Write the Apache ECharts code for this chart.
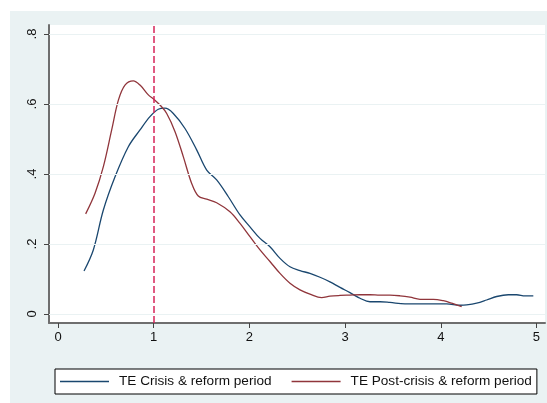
<!DOCTYPE html>
<html>
<head>
<meta charset="utf-8">
<script src="https://cdn.jsdelivr.net/npm/echarts@6/dist/echarts.min.js"></script>
<style>
html,body{margin:0;padding:0;background:#fff;}
#chart{width:547px;height:403px;}
</style>
</head>
<body>
<div id="chart"></div>
<script>
// ---- data ----
const xTicks = [0, 1, 2, 3, 4, 5];
const yTicks = [0, 0.2, 0.4, 0.6, 0.8];
const refLineX = 1;
const seriesNames = ['TE Crisis & reform period', 'TE Post-crisis & reform period'];

const crisisX = [0.272, 0.369, 0.474, 0.596, 0.735, 0.857, 0.961, 1.048, 1.118, 1.205, 1.327, 1.449, 1.554, 1.658, 1.780, 1.902, 2.006, 2.111, 2.215, 2.320, 2.424, 2.529, 2.633, 2.738, 2.842, 2.947, 3.051, 3.156, 3.260, 3.365, 3.469, 3.626, 3.783, 3.922, 4.061, 4.200, 4.270, 4.375, 4.479, 4.584, 4.706, 4.793, 4.880, 4.967];
const crisisY = [0.123, 0.183, 0.297, 0.392, 0.478, 0.526, 0.564, 0.585, 0.588, 0.573, 0.530, 0.469, 0.411, 0.383, 0.335, 0.283, 0.249, 0.216, 0.192, 0.159, 0.135, 0.124, 0.116, 0.105, 0.092, 0.076, 0.061, 0.045, 0.035, 0.035, 0.033, 0.029, 0.029, 0.029, 0.029, 0.025, 0.026, 0.031, 0.040, 0.050, 0.055, 0.055, 0.052, 0.052];

const postX = [0.289, 0.387, 0.474, 0.561, 0.631, 0.700, 0.787, 0.857, 0.944, 1.003, 1.066, 1.136, 1.223, 1.310, 1.397, 1.466, 1.554, 1.658, 1.797, 1.902, 2.006, 2.111, 2.215, 2.320, 2.424, 2.529, 2.633, 2.755, 2.842, 2.947, 3.051, 3.156, 3.260, 3.365, 3.469, 3.574, 3.678, 3.783, 3.922, 4.026, 4.114, 4.218];
const postY = [0.286, 0.345, 0.421, 0.526, 0.611, 0.654, 0.666, 0.654, 0.626, 0.613, 0.597, 0.573, 0.521, 0.449, 0.373, 0.337, 0.328, 0.318, 0.292, 0.259, 0.221, 0.183, 0.150, 0.116, 0.088, 0.069, 0.057, 0.047, 0.051, 0.053, 0.054, 0.055, 0.055, 0.054, 0.054, 0.052, 0.048, 0.042, 0.042, 0.038, 0.031, 0.021];

// ---- chart ----
const FONT = '"Liberation Sans", Arial, sans-serif';
const pairs = (xs, ys) => xs.map((x, i) => [x, ys[i]]);

const chart = echarts.init(document.getElementById('chart'), null, {renderer: 'canvas'});
chart.setOption({
  backgroundColor: '#ffffff',
  animation: false,
  graphic: [
    {type: 'rect', z: -10, silent: true, shape: {x: 10, y: 11, width: 537, height: 392}, style: {fill: '#eaf2f3'}},
    {type: 'rect', z: -9, silent: true, shape: {x: 49, y: 25, width: 496, height: 298}, style: {fill: '#ffffff'}}
  ],
  grid: {left: 49, right: 2, top: 25, bottom: 80, containLabel: false},
  xAxis: {
    type: 'value', min: -0.094, max: 5.089,
    axisLine: {show: true, onZero: false, lineStyle: {color: '#6e6e6e', width: 2}},
    axisTick: {show: true, length: 5, customValues: xTicks, lineStyle: {color: '#444', width: 1}},
    axisLabel: {customValues: xTicks, margin: 8, color: '#111', fontSize: 13, fontFamily: FONT, formatter: v => String(v)},
    splitLine: {show: false}
  },
  yAxis: {
    type: 'value', min: -0.0257, max: 0.8257,
    axisLine: {show: true, onZero: false, lineStyle: {color: '#6e6e6e', width: 2}},
    axisTick: {show: true, length: 5, customValues: yTicks, lineStyle: {color: '#444', width: 1}},
    axisLabel: {customValues: yTicks, rotate: 90, margin: 10, color: '#111', fontSize: 13, fontFamily: FONT,
      formatter: v => (Math.abs(v) < 1e-9 ? '0' : String(Math.round(v * 10) / 10).replace(/^0/, ''))},
    splitLine: {show: false}
  },
  legend: {
    left: 55, top: 369, orient: 'horizontal',
    padding: [5, 5, 5, 5],
    backgroundColor: '#ffffff', borderColor: '#000', borderWidth: 1, borderRadius: 0,
    icon: 'rect', itemWidth: 49, itemHeight: 1.6, itemGap: 20,
    textStyle: {color: '#111', fontSize: 13.6, lineHeight: 15, fontFamily: FONT, padding: [0, 0, 0, 5]},
    data: seriesNames
  },
  series: [
    {
      name: '_grid', type: 'line', data: [], z: 1, silent: true,
      markLine: {
        silent: true, symbol: 'none', label: {show: false},
        lineStyle: {color: '#eaf2f3', width: 1.2, type: 'solid'},
        data: yTicks.map(v => ({yAxis: v}))
      }
    },
    {
      name: seriesNames[0], type: 'line', data: pairs(crisisX, crisisY), smooth: 0.35,
      symbol: 'none', z: 3, lineStyle: {color: '#1a476f', width: 1.3}, itemStyle: {color: '#1a476f'}
    },
    {
      name: seriesNames[1], type: 'line', data: pairs(postX, postY), smooth: 0.35,
      symbol: 'none', z: 3, lineStyle: {color: '#90353b', width: 1.3}, itemStyle: {color: '#90353b'},
      markLine: {
        silent: true, symbol: 'none', label: {show: false},
        lineStyle: {color: '#d6245a', width: 1.5, type: [7, 3]},
        data: [{xAxis: refLineX}]
      }
    }
  ]
});
</script>
</body>
</html>
